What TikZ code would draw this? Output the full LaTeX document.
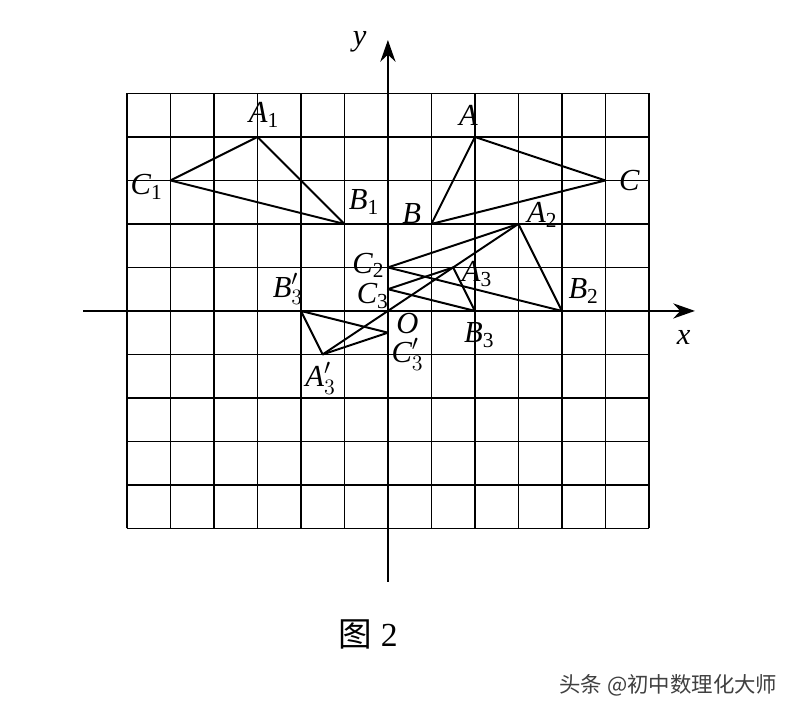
\documentclass[tikz,border=0pt]{standalone}
\usepackage{fontspec}
\setmainfont{Liberation Serif}
\newfontfamily\cjk{Noto Sans CJK SC}
\usetikzlibrary{arrows.meta}
\begin{document}
\begin{tikzpicture}[x=1cm,y=1cm,
  lab/.style={font=\fontsize{20}{24}\selectfont\itshape,inner sep=1pt},
  tri/.style={line width=1.3pt,line join=round}]
\useasboundingbox (-8.92,7.15) rectangle (9.2,-9.2);
\fill[white] (-8.92,7.15) rectangle (9.2,-9.2);
\draw[line width=0.9pt] (-6,-5) grid (6,5);
\draw[line width=1pt,-{Stealth[length=5mm,width=3.5mm]}] (-7.01,0) -- (7.06,0);
\draw[line width=1pt,-{Stealth[length=5mm,width=3.5mm]}] (0,-6.23) -- (0,6.23);
\coordinate (A) at (2,4); \coordinate (B) at (1,2); \coordinate (C) at (5,3);
\coordinate (A1) at (-3,4); \coordinate (B1) at (-1,2); \coordinate (C1) at (-5,3);
\coordinate (A2) at (3,2); \coordinate (B2) at (4,0); \coordinate (C2) at (0,1);
\coordinate (A3) at (1.5,1); \coordinate (B3) at (2,0); \coordinate (C3) at (0,0.5);
\coordinate (A3p) at (-1.5,-1); \coordinate (B3p) at (-2,0); \coordinate (C3p) at (0,-0.5);
\draw[tri] (A)--(B)--(C)--cycle;
\draw[tri] (A1)--(B1)--(C1)--cycle;
\draw[tri] (A2)--(B2)--(C2)--cycle;
\draw[tri] (A3)--(B3)--(C3)--cycle;
\draw[tri] (A3p)--(B3p)--(C3p)--cycle;
\draw[tri] (A3p)--(A2);
\node[lab] (ly) at (-0.65,6.2) {y};
\node[lab] (lx) at (6.8,-0.62) {x};
\node[lab] (lO) at (0.45,-0.3) {O};
\node[lab] (lA) at (1.85,4.5) {A};
\node[lab] (lB) at (0.55,2.25) {B};
\node[lab] (lC) at (5.55,3) {C};
\node[lab] (lA1) at (-2.85,4.5) {A\textsubscript{\upshape 1}};
\node[lab] (lB1) at (-0.55,2.5) {B\textsubscript{\upshape 1}};
\node[lab] (lC1) at (-5.55,2.85) {C\textsubscript{\upshape 1}};
\node[lab] (lA2) at (3.55,2.2) {A\textsubscript{\upshape 2}};
\node[lab] (lB2) at (4.5,0.45) {B\textsubscript{\upshape 2}};
\node[lab] (lC2) at (-0.45,1.05) {C\textsubscript{\upshape 2}};
\node[lab] (lA3) at (2.05,0.85) {A\textsubscript{\upshape 3}};
\node[lab] (lB3) at (2.1,-0.55) {B\textsubscript{\upshape 3}};
\node[lab] (lC3) at (-0.35,0.35) {C\textsubscript{\upshape 3}};
\node[lab] (lA3p) at (-1.55,-1.55) {A$'_{3}$};
\node[lab] (lB3p) at (-2.3,0.5) {B$'_{3}$};
\node[lab] (lC3p) at (0.45,-1.0) {C$'_{3}$};
\node[font=\fontsize{22}{26}\selectfont] (cap) at (-0.45,-7.45) {{\cjk 图}\ 2};
\node[font=\fontsize{14}{17}\selectfont\cjk,text=black!75] (wm) at (6.45,-8.6) {头条 @初中数理化大师};
\end{tikzpicture}
\end{document}
